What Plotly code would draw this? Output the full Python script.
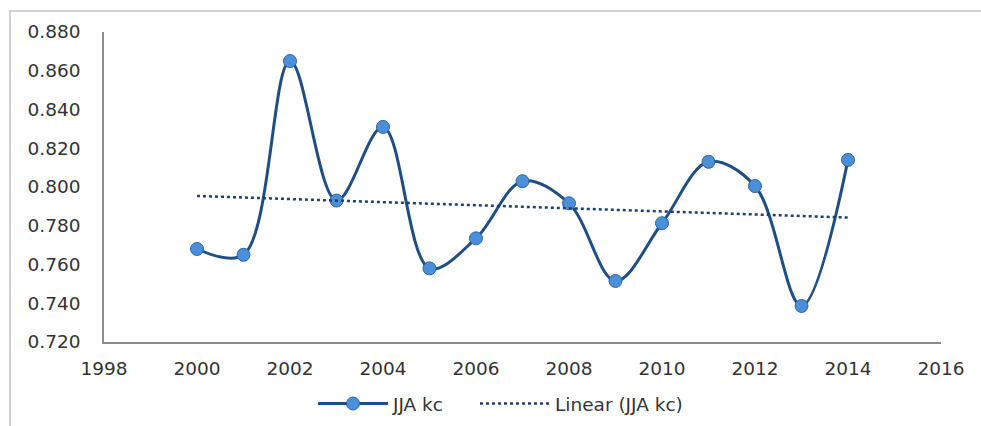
import numpy as np
import plotly.graph_objects as go

years = [2000, 2001, 2002, 2003, 2004, 2005, 2006, 2007, 2008, 2009, 2010, 2011, 2012, 2013, 2014]
jja_kc = [0.768, 0.765, 0.865, 0.793, 0.831, 0.758, 0.7735, 0.803, 0.7916, 0.7515, 0.7813, 0.813, 0.8005, 0.7386, 0.814]
series_name = "JJA kc"
trend_name = "Linear (JJA kc)"

slope, intercept = np.polyfit(years, jja_kc, 1)
trend = [slope * y + intercept for y in years]

FONT = "DejaVu Sans"

fig = go.Figure()
fig.add_trace(go.Scatter(
    x=years, y=jja_kc, name=series_name, mode="lines+markers", legend="legend",
    line=dict(color="#1f4e85", width=3, shape="spline", smoothing=1),
    marker=dict(size=13, color="#4a8fd8", line=dict(color="#2a66a8", width=1)),
))
fig.add_trace(go.Scatter(
    x=[years[0], years[-1]], y=[trend[0], trend[-1]], name=trend_name, mode="lines",
    legend="legend2",
    line=dict(color="#1f3f6f", width=2.5, dash="dot"),
))

leg_common = dict(orientation="h", xanchor="left", yref="container", xref="container",
                  y=1 - 404 / 426, yanchor="middle", itemwidth=70,
                  font=dict(size=18.5), bgcolor="rgba(0,0,0,0)")

fig.update_layout(
    width=981, height=426,
    margin=dict(l=104, r=40, t=32, b=84, autoexpand=False),
    paper_bgcolor="white", plot_bgcolor="white",
    font=dict(family=FONT, size=18.5, color="#333333"),
    showlegend=True,
    legend=dict(x=313 / 981, **leg_common),
    legend2=dict(x=475 / 981, **leg_common),
    shapes=[dict(type="rect", xref="paper", yref="paper",
                 x0=(10 - 104) / 837, x1=(995 - 104) / 837,
                 y0=(342 - 440) / 310, y1=1 + (32 - 11) / 310,
                 line=dict(color="#d0d0d0", width=2), layer="below")],
)
fig.update_xaxes(range=[1998, 2016], dtick=2, tick0=1998, showgrid=False, zeroline=False,
                 showline=True, linecolor="#8c8c8c", linewidth=1.5,
                 ticks="outside", ticklen=9, tickcolor="rgba(0,0,0,0)")
fig.update_yaxes(range=[0.72, 0.88], dtick=0.02, tick0=0.72, tickformat=".3f", showgrid=False,
                 zeroline=False, showline=True, linecolor="#8c8c8c", linewidth=1.5,
                 ticks="outside", ticklen=18, tickcolor="rgba(0,0,0,0)")

fig.write_html("out.html")
